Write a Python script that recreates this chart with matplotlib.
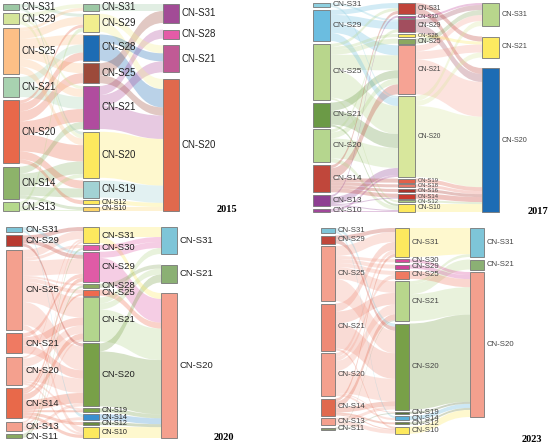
import matplotlib
matplotlib.use("Agg")
import matplotlib.pyplot as plt
from matplotlib.path import Path
from matplotlib.patches import PathPatch, Rectangle

plt.rcParams['font.family'] = ['Liberation Sans', 'DejaVu Sans']

# ---------------- 2015 ----------------
n15_c1 = ['CN-S31', 'CN-S29', 'CN-S25', 'CN-S21', 'CN-S20', 'CN-S14', 'CN-S13']
v15_c1 = [6, 11, 46, 20, 63, 32, 9]
k15_c1 = ['#9cc8a4', '#d5e59a', '#fdbf86', '#a8d2b0', '#e8684a', '#8db36a', '#b5d88c']
n15_c2 = ['CN-S31', 'CN-S29', 'CN-S28', 'CN-S25', 'CN-S21', 'CN-S20', 'CN-S19', 'CN-S12', 'CN-S10']
v15_c2 = [7, 18, 26, 20, 43, 46, 17, 4, 4]
k15_c2 = ['#9cc8a4', '#f2ee8e', '#1d6cb4', '#9c4a3a', '#b04c9e', '#fde95e', '#a2d2d4', '#fde95e', '#fdd56a']
n15_c3 = ['CN-S31', 'CN-S28', 'CN-S21', 'CN-S20']
v15_c3 = [19, 9, 27, 132]
k15_c3 = ['#a24b96', '#e45ba7', '#c05a95', '#e0694d']
f15_12 = [('CN-S31', 'CN-S29', 3), ('CN-S31', 'CN-S20', 3),
          ('CN-S29', 'CN-S31', 4), ('CN-S29', 'CN-S21', 3), ('CN-S29', 'CN-S20', 4),
          ('CN-S25', 'CN-S31', 3), ('CN-S25', 'CN-S29', 8), ('CN-S25', 'CN-S28', 10),
          ('CN-S25', 'CN-S25', 10), ('CN-S25', 'CN-S21', 8), ('CN-S25', 'CN-S20', 7),
          ('CN-S21', 'CN-S28', 8), ('CN-S21', 'CN-S21', 12),
          ('CN-S20', 'CN-S29', 3), ('CN-S20', 'CN-S28', 8), ('CN-S20', 'CN-S25', 10),
          ('CN-S20', 'CN-S21', 13), ('CN-S20', 'CN-S20', 17), ('CN-S20', 'CN-S19', 8),
          ('CN-S20', 'CN-S12', 4),
          ('CN-S14', 'CN-S21', 7), ('CN-S14', 'CN-S20', 13), ('CN-S14', 'CN-S19', 9),
          ('CN-S14', 'CN-S10', 3),
          ('CN-S13', 'CN-S29', 4), ('CN-S13', 'CN-S20', 4), ('CN-S13', 'CN-S10', 1)]
f15_23 = [('CN-S31', 'CN-S31', 7),
          ('CN-S29', 'CN-S21', 8), ('CN-S29', 'CN-S20', 10),
          ('CN-S28', 'CN-S21', 8), ('CN-S28', 'CN-S20', 18),
          ('CN-S25', 'CN-S31', 12), ('CN-S25', 'CN-S20', 8),
          ('CN-S21', 'CN-S28', 9), ('CN-S21', 'CN-S21', 11), ('CN-S21', 'CN-S20', 23),
          ('CN-S20', 'CN-S20', 46), ('CN-S19', 'CN-S20', 17),
          ('CN-S12', 'CN-S20', 4), ('CN-S10', 'CN-S20', 4)]

# ---------------- 2017 ----------------
n17_c1 = ['CN-S31', 'CN-S29', 'CN-S25', 'CN-S21', 'CN-S20', 'CN-S14', 'CN-S13', 'CN-S10']
v17_c1 = [4, 31, 56, 24, 33, 27, 11, 3]
k17_c1 = ['#8ed0e0', '#6bbde0', '#b8d68c', '#6b9a46', '#b5d68e', '#c0473b', '#8e3f92', '#a0479a']
n17_c2 = ['CN-S31', 'CN-S30', 'CN-S29', 'CN-S28', 'CN-S25', 'CN-S21', 'CN-S20',
          'CN-S19', 'CN-S18', 'CN-S16', 'CN-S14', 'CN-S12', 'CN-S10']
v17_c2 = [11, 2, 13, 3, 5, 49, 81, 4, 3, 3, 5, 2, 8]
k17_c2 = ['#c0433a', '#c0439a', '#a24e5e', '#fde95e', '#8aa860', '#f6a394', '#d8e79c',
          '#e0614a', '#e87a6a', '#a8332a', '#c83a2e', '#a8c882', '#fde95e']
n17_c3 = ['CN-S31', 'CN-S21', 'CN-S20']
v17_c3 = [23, 21, 144]
k17_c3 = ['#b8d68c', '#fdea60', '#1d6cb4']
f17_12 = [('CN-S31', 'CN-S29', 2), ('CN-S31', 'CN-S20', 2),
          ('CN-S29', 'CN-S31', 5), ('CN-S29', 'CN-S29', 8), ('CN-S29', 'CN-S21', 10),
          ('CN-S29', 'CN-S20', 8),
          ('CN-S25', 'CN-S31', 3), ('CN-S25', 'CN-S28', 3), ('CN-S25', 'CN-S25', 5),
          ('CN-S25', 'CN-S21', 15), ('CN-S25', 'CN-S20', 28), ('CN-S25', 'CN-S12', 2),
          ('CN-S21', 'CN-S21', 8), ('CN-S21', 'CN-S20', 14), ('CN-S21', 'CN-S10', 2),
          ('CN-S20', 'CN-S29', 3), ('CN-S20', 'CN-S21', 6), ('CN-S20', 'CN-S20', 20),
          ('CN-S20', 'CN-S10', 4),
          ('CN-S14', 'CN-S31', 3), ('CN-S14', 'CN-S21', 10), ('CN-S14', 'CN-S19', 4),
          ('CN-S14', 'CN-S18', 3), ('CN-S14', 'CN-S16', 3), ('CN-S14', 'CN-S14', 4),
          ('CN-S13', 'CN-S30', 2), ('CN-S13', 'CN-S20', 7), ('CN-S13', 'CN-S14', 1),
          ('CN-S13', 'CN-S10', 1),
          ('CN-S10', 'CN-S20', 2), ('CN-S10', 'CN-S10', 1)]
f17_23 = [('CN-S31', 'CN-S21', 5), ('CN-S31', 'CN-S20', 6),
          ('CN-S30', 'CN-S31', 2),
          ('CN-S29', 'CN-S31', 5), ('CN-S29', 'CN-S20', 8),
          ('CN-S28', 'CN-S21', 3), ('CN-S25', 'CN-S31', 5),
          ('CN-S21', 'CN-S31', 6), ('CN-S21', 'CN-S21', 8), ('CN-S21', 'CN-S20', 35),
          ('CN-S20', 'CN-S31', 5), ('CN-S20', 'CN-S21', 5), ('CN-S20', 'CN-S20', 71),
          ('CN-S19', 'CN-S20', 4), ('CN-S18', 'CN-S20', 3), ('CN-S16', 'CN-S20', 3),
          ('CN-S14', 'CN-S20', 5), ('CN-S12', 'CN-S20', 2), ('CN-S10', 'CN-S20', 8)]

# ---------------- 2020 ----------------
n20_c1 = ['CN-S31', 'CN-S29', 'CN-S25', 'CN-S21', 'CN-S20', 'CN-S14', 'CN-S13', 'CN-S11']
v20_c1 = [5, 11, 80, 20, 28, 30, 9, 4]
k20_c1 = ['#7ec5d8', '#b83a30', '#f4a08e', '#ef7a62', '#f4a08e', '#e8694a', '#f4a08e', '#8aa860']
n20_c2 = ['CN-S31', 'CN-S30', 'CN-S29', 'CN-S28', 'CN-S25', 'CN-S21', 'CN-S20',
          'CN-S19', 'CN-S14', 'CN-S12', 'CN-S10']
v20_c2 = [16, 5, 30, 4, 6, 44, 63, 4, 6, 3, 11]
k20_c2 = ['#fde95e', '#e45ba7', '#e05ba6', '#8aa860', '#ef6a4e', '#b3d58d', '#78a048',
          '#7aa14a', '#3a8fcf', '#6a8a40', '#fde95e']
n20_c3 = ['CN-S31', 'CN-S21', 'CN-S20']
v20_c3 = [27, 18, 145]
k20_c3 = ['#7ec5d8', '#8bb074', '#f4a08e']
f20_12 = [('CN-S31', 'CN-S29', 3), ('CN-S31', 'CN-S14', 2),
          ('CN-S29', 'CN-S31', 4), ('CN-S29', 'CN-S29', 4), ('CN-S29', 'CN-S20', 3),
          ('CN-S25', 'CN-S31', 8), ('CN-S25', 'CN-S30', 3), ('CN-S25', 'CN-S29', 15),
          ('CN-S25', 'CN-S28', 2), ('CN-S25', 'CN-S25', 4), ('CN-S25', 'CN-S21', 20),
          ('CN-S25', 'CN-S20', 23), ('CN-S25', 'CN-S10', 5),
          ('CN-S21', 'CN-S29', 4), ('CN-S21', 'CN-S21', 8), ('CN-S21', 'CN-S20', 8),
          ('CN-S20', 'CN-S31', 2), ('CN-S20', 'CN-S21', 8), ('CN-S20', 'CN-S20', 14),
          ('CN-S20', 'CN-S19', 2), ('CN-S20', 'CN-S10', 2),
          ('CN-S14', 'CN-S29', 4), ('CN-S14', 'CN-S25', 2), ('CN-S14', 'CN-S21', 6),
          ('CN-S14', 'CN-S20', 10), ('CN-S14', 'CN-S19', 2), ('CN-S14', 'CN-S12', 3),
          ('CN-S14', 'CN-S10', 3),
          ('CN-S13', 'CN-S31', 2), ('CN-S13', 'CN-S21', 2), ('CN-S13', 'CN-S20', 3),
          ('CN-S13', 'CN-S14', 2),
          ('CN-S11', 'CN-S30', 2), ('CN-S11', 'CN-S28', 2)]
f20_23 = [('CN-S31', 'CN-S31', 10), ('CN-S31', 'CN-S20', 6),
          ('CN-S30', 'CN-S31', 5),
          ('CN-S29', 'CN-S31', 6), ('CN-S29', 'CN-S20', 24),
          ('CN-S28', 'CN-S21', 4), ('CN-S25', 'CN-S20', 6),
          ('CN-S21', 'CN-S31', 6), ('CN-S21', 'CN-S21', 6), ('CN-S21', 'CN-S20', 32),
          ('CN-S20', 'CN-S21', 8), ('CN-S20', 'CN-S20', 55),
          ('CN-S19', 'CN-S20', 4), ('CN-S14', 'CN-S20', 6), ('CN-S12', 'CN-S20', 3),
          ('CN-S10', 'CN-S20', 11)]

# ---------------- 2023 ----------------
n23_c1 = ['CN-S31', 'CN-S29', 'CN-S25', 'CN-S21', 'CN-S20', 'CN-S14', 'CN-S13', 'CN-S11']
v23_c1 = [5, 8, 55, 47, 43, 17, 7, 2]
k23_c1 = ['#7ec5d8', '#c0473b', '#f4a08e', '#ee8a76', '#f4a08e', '#e0694e', '#f4a08e', '#8a9a70']
n23_c2 = ['CN-S31', 'CN-S30', 'CN-S29', 'CN-S25', 'CN-S21', 'CN-S20',
          'CN-S19', 'CN-S14', 'CN-S12', 'CN-S10']
v23_c2 = [29, 3, 4, 8, 40, 86, 2, 4, 2, 7]
k23_c2 = ['#fde95e', '#d8489a', '#d0439a', '#ef7a62', '#b8d68c', '#78a048',
          '#56703a', '#5ab0d8', '#6a8040', '#fde95e']
n23_c3 = ['CN-S31', 'CN-S21', 'CN-S20']
v23_c3 = [29, 10, 145]
k23_c3 = ['#7ec5d8', '#8bb074', '#f4a08e']
f23_12 = [('CN-S31', 'CN-S20', 3), ('CN-S31', 'CN-S14', 2),
          ('CN-S29', 'CN-S31', 4), ('CN-S29', 'CN-S20', 4),
          ('CN-S25', 'CN-S31', 10), ('CN-S25', 'CN-S30', 3), ('CN-S25', 'CN-S29', 4),
          ('CN-S25', 'CN-S25', 4), ('CN-S25', 'CN-S21', 12), ('CN-S25', 'CN-S20', 22),
          ('CN-S21', 'CN-S31', 8), ('CN-S21', 'CN-S21', 12), ('CN-S21', 'CN-S20', 25),
          ('CN-S21', 'CN-S10', 2),
          ('CN-S20', 'CN-S31', 4), ('CN-S20', 'CN-S25', 4), ('CN-S20', 'CN-S21', 10),
          ('CN-S20', 'CN-S20', 22), ('CN-S20', 'CN-S19', 1), ('CN-S20', 'CN-S14', 2),
          ('CN-S14', 'CN-S31', 3), ('CN-S14', 'CN-S21', 6), ('CN-S14', 'CN-S20', 5),
          ('CN-S14', 'CN-S12', 2), ('CN-S14', 'CN-S10', 1),
          ('CN-S13', 'CN-S20', 3), ('CN-S13', 'CN-S10', 4),
          ('CN-S11', 'CN-S19', 1), ('CN-S11', 'CN-S21', 1)]
f23_23 = [('CN-S31', 'CN-S31', 29),
          ('CN-S30', 'CN-S20', 3), ('CN-S29', 'CN-S20', 4), ('CN-S25', 'CN-S20', 8),
          ('CN-S21', 'CN-S31', 3), ('CN-S21', 'CN-S21', 10), ('CN-S21', 'CN-S20', 27),
          ('CN-S20', 'CN-S20', 86),
          ('CN-S19', 'CN-S20', 2), ('CN-S14', 'CN-S20', 4), ('CN-S12', 'CN-S20', 2),
          ('CN-S10', 'CN-S20', 7)]

years = ['2015', '2017', '2020', '2023']


def layout(names, vals, top, bottom, gap):
    if gap is None:
        gap = (bottom - top - sum(vals)) / (len(vals) - 1)
    pos = {}
    y = top
    for nm, v in zip(names, vals):
        pos[nm] = [y, y + v]
        y += v + gap
    return pos


def band(ax, x0, a0, b0, x1, a1, b1, color, alpha):
    xm = (x0 + x1) / 2
    verts = [(x0, a0), (xm, a0), (xm, a1), (x1, a1),
             (x1, b1), (xm, b1), (xm, b0), (x0, b0), (x0, a0)]
    codes = [Path.MOVETO, Path.CURVE4, Path.CURVE4, Path.CURVE4,
             Path.LINETO, Path.CURVE4, Path.CURVE4, Path.CURVE4, Path.CLOSEPOLY]
    ax.add_patch(PathPatch(Path(verts, codes), fc=color, ec='none', alpha=alpha, zorder=1))


def draw_flows(ax, flows, pa, pb, xa, xb, colors, alpha):
    out_tot, in_tot = {}, {}
    for s, d, v in flows:
        out_tot[s] = out_tot.get(s, 0) + v
        in_tot[d] = in_tot.get(d, 0) + v
    mid = lambda p, n: (p[n][0] + p[n][1]) / 2
    # stacking order inside each node
    order_out = sorted(flows, key=lambda f: (mid(pa, f[0]), mid(pb, f[1])))
    order_in = sorted(flows, key=lambda f: (mid(pb, f[1]), mid(pa, f[0])))
    cur_out = {n: pa[n][0] for n in pa}
    cur_in = {n: pb[n][0] for n in pb}
    src_y, dst_y = {}, {}
    for f in order_out:
        s, d, v = f
        h = (pa[s][1] - pa[s][0]) * v / out_tot[s]
        src_y[f] = (cur_out[s], cur_out[s] + h)
        cur_out[s] += h
    for f in order_in:
        s, d, v = f
        h = (pb[d][1] - pb[d][0]) * v / in_tot[d]
        dst_y[f] = (cur_in[d], cur_in[d] + h)
        cur_in[d] += h
    for f in sorted(flows, key=lambda f: -f[2]):
        band(ax, xa, src_y[f][0], src_y[f][1], xb, dst_y[f][0], dst_y[f][1],
             colors[f[0]], alpha)


def draw_panel(ax, cols, flows12, flows23, xs, w, top, bottom, gaps, fs, small,
               small_names, tcolor, year, ypos):
    pos = [layout(c[0], c[1], top, bottom, g) for c, g in zip(cols, gaps)]
    col_map = [dict(zip(c[0], c[2])) for c in cols]
    draw_flows(ax, flows12, pos[0], pos[1], xs[0] + w, xs[1], col_map[0], 0.3)
    draw_flows(ax, flows23, pos[1], pos[2], xs[1] + w, xs[2], col_map[1], 0.3)
    for i, c in enumerate(cols):
        for nm, col in zip(c[0], c[2]):
            y0, y1 = pos[i][nm]
            ax.add_patch(Rectangle((xs[i], y0), w, y1 - y0, fc=col, ec='#777777',
                                   lw=0.6, zorder=3))
            size = small if nm in small_names[i] else fs[i]
            ax.text(xs[i] + w + 3, (y0 + y1) / 2, nm, fontsize=size, color=tcolor,
                    ha='left', va='center', zorder=4)
    ax.text(ypos[0], ypos[1], year, fontsize=7.5, fontweight='bold',
            family=['Liberation Serif', 'DejaVu Serif'], ha='center', va='center')


fig = plt.figure(figsize=(5.5, 4.46), dpi=100)
ax = fig.add_axes([0, 0, 1, 1])
ax.set_xlim(0, 550)
ax.set_ylim(446, 0)
ax.axis('off')

draw_panel(ax, [(n15_c1, v15_c1, k15_c1), (n15_c2, v15_c2, k15_c2), (n15_c3, v15_c3, k15_c3)],
           f15_12, f15_23, [3, 83, 163], 16, 4, 211, [None, None, None],
           [7, 7, 7], 5, [[], ['CN-S12', 'CN-S10'], []], '#222222', years[0], (227, 210))
draw_panel(ax, [(n17_c1, v17_c1, k17_c1), (n17_c2, v17_c2, k17_c2), (n17_c3, v17_c3, k17_c3)],
           f17_12, f17_23, [313, 398, 482], 17, 3, 212, [None, None, None],
           [6, 4.8, 5.2], 4.2,
           [[], ['CN-S30', 'CN-S28', 'CN-S19', 'CN-S18', 'CN-S16', 'CN-S14', 'CN-S12'], []],
           '#444444', years[1], (538, 211))
draw_panel(ax, [(n20_c1, v20_c1, k20_c1), (n20_c2, v20_c2, k20_c2), (n20_c3, v20_c3, k20_c3)],
           f20_12, f20_23, [6, 83, 161], 16, 227, 438, [None, None, None],
           [6.8, 6.8, 6.8], 5.2, [[], ['CN-S19', 'CN-S14', 'CN-S12', 'CN-S10'], []],
           '#222222', years[2], (224, 437))
draw_panel(ax, [(n23_c1, v23_c1, k23_c1), (n23_c2, v23_c2, k23_c2), (n23_c3, v23_c3, k23_c3)],
           f23_12, f23_23, [321, 395, 470], 14, 228, 434, [2.5, 2.3, 2.5],
           [5.6, 5.6, 5.6], 5.6, [[], [], []], '#444444', years[3], (532, 440))

fig.savefig('out.png', dpi=100)
